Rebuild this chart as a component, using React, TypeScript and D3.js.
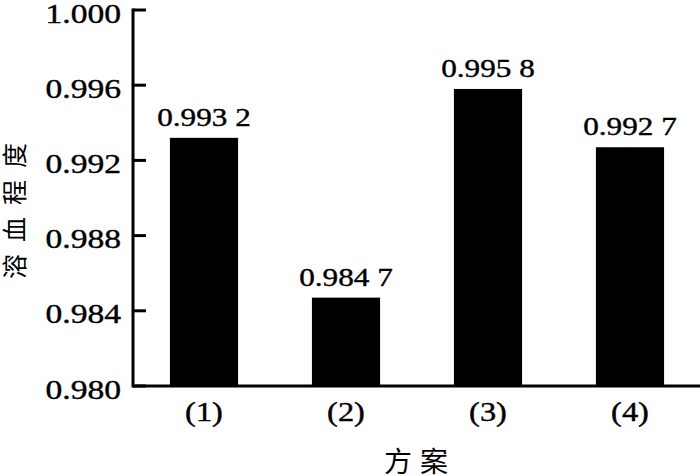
import React from "react";
import * as d3 from "d3";

const categories = ["(1)", "(2)", "(3)", "(4)"];
const values = [0.9932, 0.9847, 0.9958, 0.9927];
const valueLabels = ["0.993 2", "0.984 7", "0.995 8", "0.992 7"];
const yTicks = [0.98, 0.984, 0.988, 0.992, 0.996, 1.0];

export default function App() {
  const W = 700, H = 476;
  const left = 133, right = 701, top = 10, bottom = 386;
  const x = d3.scaleBand<string>().domain(categories).range([left, right]).paddingInner(0.52).paddingOuter(0.26);
  const y = d3.scaleLinear().domain([0.98, 1.0]).range([bottom, top]);
  const serif = "Liberation Serif, Times New Roman, serif";
  const cjk = "Noto Sans CJK SC, sans-serif";
  const sx = 1.2;
  const heavy = { stroke: "#000", strokeWidth: 0.4 };
  return (
    <svg width={W} height={H} style={{ position: "absolute", left: 0, top: 0, background: "#fff" }}>
      {categories.map((c, i) => {
        const cx = (x(c) as number) + x.bandwidth() / 2;
        return (
          <g key={c}>
            <rect x={x(c)} y={y(values[i])} width={x.bandwidth()} height={bottom - y(values[i])} fill="#000" />
            <text transform={`translate(${cx},${y(values[i]) - 12}) scale(${sx},1)`} textAnchor="middle" fontFamily={serif} fontSize={26} {...heavy}>
              {valueLabels[i]}
            </text>
            <text transform={`translate(${cx},${bottom + 35}) scale(${sx},1)`} textAnchor="middle" fontFamily={serif} fontSize={27} {...heavy}>
              {c}
            </text>
          </g>
        );
      })}
      <line x1={left} x2={left} y1={top - 1.5} y2={bottom + 1.5} stroke="#000" strokeWidth={3} />
      <line x1={left} x2={W} y1={bottom} y2={bottom} stroke="#000" strokeWidth={3} />
      {yTicks.map((t) => (
        <g key={t}>
          <line x1={left} x2={left + 13} y1={y(t)} y2={y(t)} stroke="#000" strokeWidth={3} />
          <text transform={`translate(${left - 12},${y(t) + 12.5}) scale(${sx},1)`} textAnchor="end" fontFamily={serif} fontSize={28} {...heavy}>
            {d3.format(".3f")(t)}
          </text>
        </g>
      ))}
      <text transform={`translate(24, 205) rotate(-90)`} textAnchor="middle" fontFamily={cjk} fontSize={25} letterSpacing={12}>
        溶血程度
      </text>
      <text x={420} y={472} textAnchor="middle" fontFamily={cjk} fontSize={28} letterSpacing={8}>
        方案
      </text>
    </svg>
  );
}
